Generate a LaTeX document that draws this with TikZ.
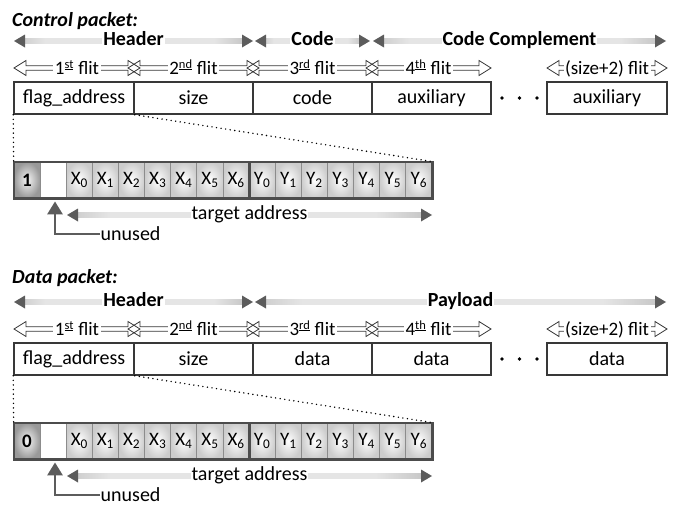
\documentclass[tikz,border=0pt]{standalone}
\usepackage{fontspec}
\setmainfont{Carlito}
\usetikzlibrary{arrows.meta,calc}

\definecolor{ardark}{gray}{0.36}
\definecolor{arlight}{gray}{0.9}
\definecolor{boxline}{gray}{0.22}
\definecolor{celldiv}{gray}{0.55}
\definecolor{framecol}{gray}{0.3}

% dark ends, broad pale middle
\pgfdeclarehorizontalshading{spanshade}{100bp}{%
  color(0bp)=(ardark); color(30bp)=(arlight); color(68bp)=(arlight); color(100bp)=(ardark)}

\newcommand\mainsize{\fontsize{20}{24}\selectfont}
\newcommand\ordsup[1]{\textsuperscript{\fontsize{12.5}{13}\selectfont\underline{#1}}}

\tikzset{
  flitbox/.style={draw=boxline, line width=1.5pt, fill=white, minimum height=32pt, inner sep=0pt},
  cellbase/.style={draw=celldiv, line width=0.8pt, minimum width=26.125pt, minimum height=36pt,
    inner sep=0pt, font=\fontsize{19}{22}\selectfont},
  xycell/.style={cellbase, inner color=white, outer color=black!20},
  flagcell/.style={cellbase, inner color=black!4, outer color=black!40, font=\fontsize{19}{22}\selectfont\bfseries},
  blankcell/.style={cellbase, fill=white},
  framed/.style={draw=framecol, line width=2.2pt},
  dotline/.style={line width=1.6pt, line cap=round, dash pattern=on 0pt off 4.6pt},
  flitline/.style={draw=boxline, line width=0.8pt, line join=miter},
  flitlabel/.style={anchor=base, fill=white, inner xsep=1.5pt, inner ysep=1pt, font=\fontsize{19}{22}\selectfont},
  seglabel/.style={anchor=base, fill=white, inner xsep=1pt, inner ysep=1pt},
  dotmark/.style={circle, fill=black, inner sep=0pt, minimum size=3.6pt},
  unusedline/.style={draw=ardark, line width=2.8pt, line join=miter,
    -{Triangle[length=13pt,width=15pt]}},
}

% thick grey double-headed arrow, dark at the ends and pale in the middle
\newcommand\gradarrow[5]{%
  \shade[shading=spanshade]
    ($(#1)+(9,-2.1)$) rectangle ($(#2)+(-9,2.1)$);
  \fill[ardark] (#1) -- ++(11,-6.5) -- ++(0,13) -- cycle;
  \fill[ardark] (#2) -- ++(-11,-6.5) -- ++(0,13) -- cycle;
  \node[seglabel, font=\mainsize#5] (#3) at ($(#1)!0.5!(#2)+(0,4.6)$) {#4};
}

% hollow double-lined arrow spanning one flit
\newcommand\flitarrow[4]{%
  \draw[flitline] (#1) -- ++(12,-7.5) -- ++(0,5.2) -- ($(#2)+(-12,-2.3)$) -- ++(0,-5.2)
    -- (#2) -- ++(-12,7.5) -- ++(0,-5.2) -- ($(#1)+(12,2.3)$) -- ++(0,5.2) -- cycle;
  \node[flitlabel] (#3) at ($(#1)!0.5!(#2)+(0,6.4)$) {#4};
}

% flits, header bit field and annotations shared by both packets
\newcommand\packetbody[4]{%
  \coordinate (t1a) at (14,68);  \coordinate (t1b) at (140,68);
  \coordinate (t2a) at (128,68); \coordinate (t2b) at (259,68);
  \coordinate (t3a) at (247,68); \coordinate (t3b) at (378,68);
  \coordinate (t4a) at (366,68); \coordinate (t4b) at (491,68);
  \coordinate (t5a) at (547,68); \coordinate (t5b) at (667,68);
  \flitarrow{t1a}{t1b}{fl1}{1\ordsup{st} flit}
  \flitarrow{t2a}{t2b}{fl2}{2\ordsup{nd} flit}
  \flitarrow{t3a}{t3b}{fl3}{3\ordsup{rd} flit}
  \flitarrow{t4a}{t4b}{fl4}{4\ordsup{th} flit}
  \flitarrow{t5a}{t5b}{fl5}{(size+2) flit}
  % flit boxes
  \node[flitbox, minimum width=120pt] (f1) at (74,98) {flag\_address};
  \node[flitbox, minimum width=119pt] (f2) at (193.5,98) {size};
  \node[flitbox, minimum width=119pt] (f3) at (312.5,98) {#2};
  \node[flitbox, minimum width=119pt] (f4) at (431.5,98) {#3};
  \node[flitbox, minimum width=120pt] (f5) at (607,98) {#4};
  \node[dotmark] (d1) at (502,98) {};
  \node[dotmark] (d2) at (519.5,98) {};
  \node[dotmark] (d3) at (537,98) {};
  % bit field of flag_address
  \node[flagcell] (b0) at ({14+26.125*0.5},180) {#1};
  \node[blankcell] (b1) at ({14+26.125*1.5},180) {};
  \foreach \k in {0,...,6} {
    \node[xycell] (bx\k) at ({14+26.125*(\k+2.5)},180) {X\textsubscript{\k}};
    \node[xycell] (by\k) at ({14+26.125*(\k+9.5)},180) {Y\textsubscript{\k}};
  }
  \draw[framed] (b0.north west) rectangle (by6.south east);
  \draw[framed] (bx6.north east) -- (bx6.south east);
  \draw[dotline] (f1.south west) -- (b0.north west);
  \draw[dotline] (f1.south east) -- (by6.north east);
  % target address span
  \coordinate (ta1) at (67,215); \coordinate (ta2) at (432,215);
  \gradarrow{ta1}{ta2}{tal}{target address}{\mdseries}
  % unused bit
  \node[anchor=base west, inner sep=0.5pt] (un) at (100,240) {unused};
  \coordinate (uc) at (55,234);
  \draw[unusedline] (un.west |- uc) -- (uc) -- ($(b1.south -| uc)+(0,3)$);
}

\begin{document}
\begin{tikzpicture}[x=1pt, y=-1pt, font=\mainsize]
  \useasboundingbox (0,0) rectangle (685,506);

  % control packet
  \node[anchor=base west, inner sep=0pt] (ctitle) at (12,26) {\bfseries\itshape Control packet:};
  \begin{scope}[name prefix=c-]
    \coordinate (h1) at (14,41);  \coordinate (h2) at (253,41);
    \coordinate (k1) at (255,41); \coordinate (k2) at (370,41);
    \coordinate (m1) at (373,41); \coordinate (m2) at (666,41);
    \gradarrow{h1}{h2}{hl}{Header}{\bfseries}
    \gradarrow{k1}{k2}{kl}{Code}{\bfseries}
    \gradarrow{m1}{m2}{ml}{Code Complement}{\bfseries}
    \packetbody{1}{code}{auxiliary}{auxiliary}
  \end{scope}

  % data packet
  \node[anchor=base west, inner sep=0pt] (dtitle) at (12,283.5) {\bfseries\itshape Data packet:};
  \begin{scope}[shift={(0,261)}, name prefix=d-]
    \coordinate (h1) at (14,41);  \coordinate (h2) at (253,41);
    \coordinate (p1) at (255,41); \coordinate (p2) at (666,41);
    \gradarrow{h1}{h2}{hl}{Header}{\bfseries}
    \gradarrow{p1}{p2}{pl}{Payload}{\bfseries}
    \packetbody{0}{data}{data}{data}
  \end{scope}
\end{tikzpicture}
\end{document}
